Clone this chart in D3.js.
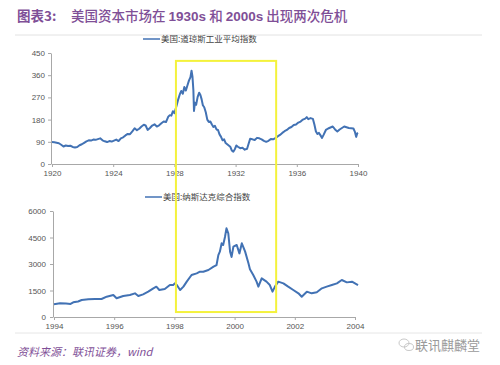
<!DOCTYPE html>
<html>
<head>
<meta charset="utf-8">
<script src="https://cdn.jsdelivr.net/npm/d3@7"></script>
<style>
  html, body { margin: 0; padding: 0; background: #fff; }
  svg { display: block; }
  .axis text { font-family: "Liberation Sans", Arial, sans-serif; font-size: 8px; fill: #555; }
  .axis path, .axis line { stroke: #a8a8a8; }
</style>
</head>
<body>
<div id="chart"></div>
<script>
// 道琼斯工业平均指数 1920-1940
const djYears = [
  1920.00, 1920.15, 1920.30, 1920.45, 1920.60, 1920.75, 1920.90, 1921.05, 1921.20, 1921.35,
  1921.50, 1921.65, 1921.80, 1921.95, 1922.10, 1922.25, 1922.40, 1922.55, 1922.70, 1922.85,
  1923.00, 1923.15, 1923.30, 1923.45, 1923.60, 1923.75, 1923.90, 1924.05, 1924.20, 1924.35,
  1924.50, 1924.65, 1924.80, 1924.95, 1925.10, 1925.25, 1925.40, 1925.55, 1925.70, 1925.85,
  1926.00, 1926.12, 1926.25, 1926.40, 1926.55, 1926.70, 1926.85, 1927.00, 1927.15, 1927.30,
  1927.45, 1927.60, 1927.70, 1927.80, 1927.90, 1928.00, 1928.15, 1928.25, 1928.35, 1928.45,
  1928.55, 1928.65, 1928.75, 1928.85, 1928.95, 1929.05, 1929.12, 1929.18, 1929.24, 1929.28,
  1929.34, 1929.42, 1929.52, 1929.62, 1929.70, 1929.78, 1929.86, 1929.95, 1930.05, 1930.15,
  1930.25, 1930.35, 1930.45, 1930.55, 1930.65, 1930.75, 1930.85, 1930.95, 1931.05, 1931.15,
  1931.25, 1931.35, 1931.45, 1931.55, 1931.65, 1931.75, 1931.85, 1931.95, 1932.05, 1932.15,
  1932.30, 1932.45, 1932.60, 1932.75, 1932.85, 1932.95, 1933.10, 1933.25, 1933.40, 1933.55,
  1933.70, 1933.85, 1934.00, 1934.15, 1934.30, 1934.45, 1934.60, 1934.75, 1934.90, 1935.05,
  1935.20, 1935.35, 1935.50, 1935.65, 1935.80, 1935.95, 1936.10, 1936.25, 1936.40, 1936.55,
  1936.65, 1936.75, 1936.90, 1937.05, 1937.15, 1937.25, 1937.35, 1937.45, 1937.55, 1937.65,
  1937.75, 1937.90, 1938.05, 1938.20, 1938.35, 1938.50, 1938.65, 1938.80, 1938.95, 1939.10,
  1939.25, 1939.40, 1939.55, 1939.70, 1939.80, 1939.88, 1939.95, 1940.00
]
const djValues = [
  89, 88, 86, 84, 78, 71, 75, 73, 74, 69,
  67, 69, 76, 80, 86, 92, 96, 95, 99, 98,
  101, 104, 96, 92, 89, 93, 91, 95, 99, 93,
  104, 108, 116, 122, 121, 132, 145, 137, 143, 152,
  159, 156, 138, 146, 156, 161, 152, 157, 165, 172,
  170, 192, 198, 196, 214, 206, 238, 262, 282, 296,
  285, 312, 298, 318, 338, 352, 378, 355, 300, 215,
  248, 240, 272, 289, 280, 262, 238, 230, 210, 180,
  170, 172, 160, 150, 155, 140, 138, 120, 110, 96,
  100, 85, 80, 75, 70, 55, 50, 60, 75, 70,
  64, 66, 58, 62, 82, 102, 100, 97, 106, 104,
  100, 94, 90, 94, 101, 100, 105, 112, 118, 126,
  133, 138, 146, 150, 158, 160, 168, 172, 180, 184,
  190, 182, 186, 183, 160, 132, 122, 126, 116, 106,
  118, 138, 144, 148, 152, 140, 132, 140, 146, 152,
  149, 146, 145, 144, 130, 110, 124, 126
]

// 纳斯达克综合指数 1994-2004
const nqYears = [
  1994.00, 1994.20, 1994.40, 1994.55, 1994.64, 1994.80, 1994.92, 1995.14, 1995.36, 1995.58,
  1995.75, 1995.97, 1996.08, 1996.30, 1996.52, 1996.69, 1996.80, 1996.96, 1997.13, 1997.30,
  1997.40, 1997.50, 1997.68, 1997.85, 1997.96, 1998.02, 1998.08, 1998.19, 1998.30, 1998.41,
  1998.57, 1998.74, 1998.85, 1998.96, 1999.13, 1999.30, 1999.40, 1999.46, 1999.51, 1999.57,
  1999.62, 1999.68, 1999.73, 1999.79, 1999.85, 1999.90, 1999.96, 2000.07, 2000.16, 2000.24,
  2000.35, 2000.46, 2000.51, 2000.62, 2000.73, 2000.79, 2000.90, 2001.06, 2001.17, 2001.26,
  2001.34, 2001.45, 2001.62, 2001.78, 2001.95, 2002.12, 2002.23, 2002.40, 2002.56, 2002.73,
  2002.90, 2003.06, 2003.23, 2003.40, 2003.56, 2003.73, 2003.90, 2004.00, 2004.10
]
const nqValues = [
  719, 774, 760, 740, 831, 880, 962, 1000, 1020, 1020,
  1150, 1245, 1058, 1188, 1245, 1340, 1188, 1283, 1434, 1623,
  1717, 1528, 1585, 1811, 1811, 1905, 1811, 1528, 1717, 2000,
  2377, 2470, 2565, 2565, 2660, 2850, 2942, 3500, 3697, 4170,
  4075, 4528, 5020, 4740, 3700, 3400, 3980, 4075, 3600, 4170,
  3700, 3040, 2700, 2377, 2000, 1717, 2190, 2000, 1811, 1434,
  1717, 2000, 1905, 1717, 1528, 1340, 1150, 1434, 1340, 1400,
  1623, 1717, 1811, 1905, 2094, 1960, 2000, 1905, 1811
]

const djTicks = [0, 90, 180, 270, 360, 450]
const djYearTicks = [1920, 1924, 1928, 1932, 1936, 1940]
const nqTicks = [0, 1500, 3000, 4500, 6000]
const nqYearTicks = [1994, 1996, 1998, 2000, 2002, 2004]

// 黄框：上图年份范围、上沿数值，下沿对应下图数值
const boxYears = [1928.1, 1934.65]
const boxTopValue = 418
const boxBottomValue = 280

const W = 500, H = 365
const purple = '#7f4f97'
const lineColor = '#4272b4'
const cjk = '"Noto Sans CJK SC", "Noto Sans", sans-serif'

const svg = d3.select('#chart').append('svg')
  .attr('width', W).attr('height', H)

// 标题
const title = svg.append('text')
  .attr('y', 21)
  .style('font-family', cjk)
  .style('font-size', '13.5px')
  .style('fill', purple)
title.append('tspan').attr('x', 17).style('font-weight', 'bold').text('图表3:')
const t2 = title.append('tspan').attr('x', 71)
const titleParts = [['美国资本市场在 ', false], ['1930s', true], [' 和 ', false], ['2000s', true], [' 出现两次危机', false]]
titleParts.forEach(([s, b]) => {
  t2.append('tspan')
    .style('font-weight', b ? 'bold' : 500)
    .style('font-family', b ? '"Liberation Sans", Arial, sans-serif' : cjk)
    .text(s)
})

svg.append('line')
  .attr('x1', 15).attr('x2', 482).attr('y1', 35).attr('y2', 35)
  .style('stroke', '#e2e2e2').style('stroke-width', 1)

// 通用绘图
function drawPanel(cfg) {
  const x = d3.scaleLinear().domain(cfg.xDomain).range(cfg.xRange)
  const y = d3.scaleLinear().domain(cfg.yDomain).range(cfg.yRange)
  const g = svg.append('g')

  g.append('g')
    .attr('class', 'axis')
    .attr('transform', `translate(0,${cfg.yRange[0]})`)
    .call(d3.axisBottom(x).tickValues(cfg.xTicks).tickFormat(d3.format('d')).tickSizeInner(3).tickSizeOuter(0).tickPadding(3))

  g.append('g')
    .attr('class', 'axis')
    .attr('transform', `translate(${cfg.xRange[0] - 1},0)`)
    .call(d3.axisLeft(y).tickValues(cfg.yTicks).tickFormat(d3.format('d')).tickSizeInner(3).tickSizeOuter(0).tickPadding(cfg.yPad))

  const data = cfg.years.map((yr, i) => ({ yr, v: cfg.values[i] }))
  const line = d3.line().x(d => x(d.yr)).y(d => y(d.v))
  g.append('path')
    .datum(data)
    .attr('d', line)
    .style('fill', 'none')
    .style('stroke', lineColor)
    .style('stroke-width', 2)
    .style('stroke-linejoin', 'round')

  // 图例
  g.append('line')
    .attr('x1', cfg.legendX).attr('x2', cfg.legendX + 17)
    .attr('y1', cfg.legendY).attr('y2', cfg.legendY)
    .style('stroke', lineColor).style('stroke-width', 1.5)
  g.append('text')
    .attr('x', cfg.legendX + 18).attr('y', cfg.legendY + 3)
    .style('font-family', cjk).style('font-size', '8.5px').style('fill', '#444')
    .text(cfg.label)

  return { x, y }
}

const topPanel = drawPanel({
  xDomain: [1920, 1940], xRange: [52, 358],
  yDomain: [0, 450], yRange: [164, 53],
  xTicks: djYearTicks, yTicks: djTicks, yPad: 3,
  years: djYears, values: djValues,
  legendX: 143, legendY: 39, label: '美国:道琼斯工业平均指数'
})

const bottomPanel = drawPanel({
  xDomain: [1994, 2004], xRange: [54, 355],
  yDomain: [0, 6000], yRange: [317, 211],
  xTicks: nqYearTicks, yTicks: nqTicks, yPad: 4,
  years: nqYears, values: nqValues,
  legendX: 145, legendY: 197, label: '美国:纳斯达克综合指数'
})

// 黄色标注框
svg.append('rect')
  .attr('x', topPanel.x(boxYears[0]))
  .attr('y', topPanel.y(boxTopValue))
  .attr('width', topPanel.x(boxYears[1]) - topPanel.x(boxYears[0]))
  .attr('height', bottomPanel.y(boxBottomValue) - topPanel.y(boxTopValue))
  .style('fill', 'none')
  .style('stroke', '#f4f23c')
  .style('stroke-width', 2)

// 底部
svg.append('line')
  .attr('x1', 15).attr('x2', 482).attr('y1', 333).attr('y2', 333)
  .style('stroke', '#e6e6e6').style('stroke-width', 1)

svg.append('text')
  .attr('x', 17).attr('y', 356)
  .style('font-family', cjk).style('font-size', '11px')
  .style('font-style', 'italic').style('fill', purple)
  .text('资料来源：联讯证券，wind')

// 公众号图标
const icon = svg.append('g').style('fill', 'none').style('stroke', '#c8c8c8').style('stroke-width', 1)
icon.append('ellipse').attr('cx', 404).attr('cy', 343).attr('rx', 5).attr('ry', 4)
icon.append('ellipse').attr('cx', 409).attr('cy', 347).attr('rx', 4.5).attr('ry', 3.5)

svg.append('text')
  .attr('x', 415).attr('y', 350)
  .style('font-family', cjk).style('font-size', '13px').style('fill', '#9a9a9a')
  .text('联讯麒麟堂')
</script>
</body>
</html>
